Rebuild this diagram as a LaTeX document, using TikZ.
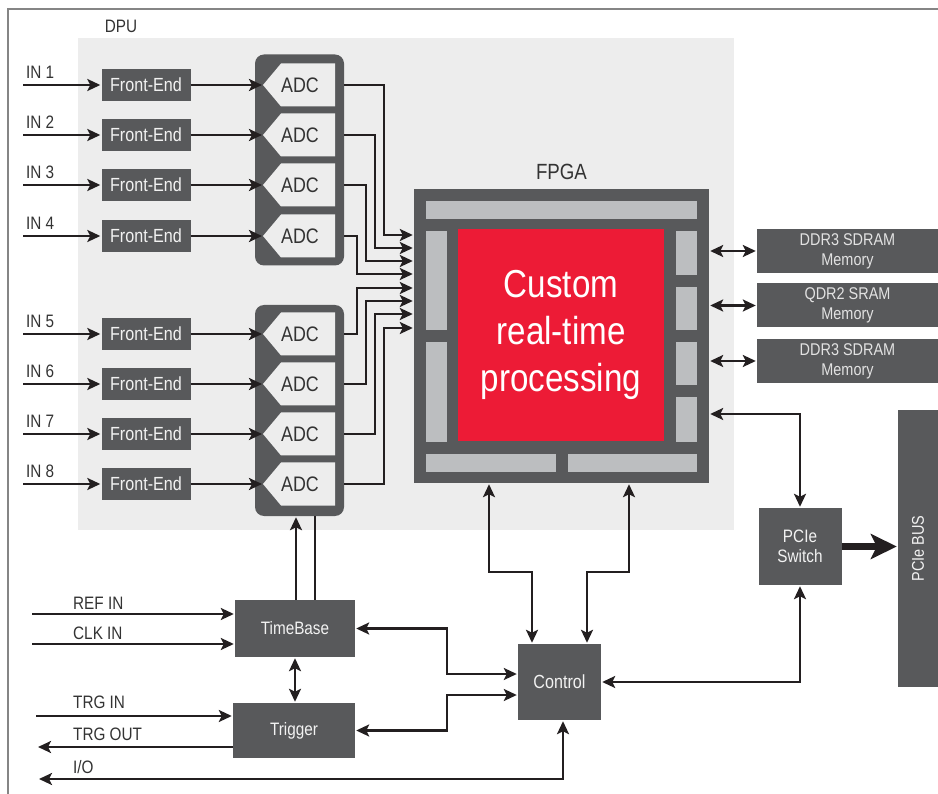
\documentclass[tikz,border=0pt]{standalone}
\usepackage{fontspec}
\setmainfont{Liberation Sans}[FakeStretch=0.85]
\usetikzlibrary{arrows.meta}
\definecolor{boxc}{HTML}{58595B}
\definecolor{barc}{HTML}{BCBEC0}
\definecolor{panelc}{HTML}{EDEDED}
\definecolor{redc}{HTML}{ED1B36}
\definecolor{inkc}{HTML}{231F20}
\definecolor{framec}{HTML}{858585}
\definecolor{labelc}{HTML}{333333}
\definecolor{boxtxtc}{HTML}{F2F2F2}
\definecolor{memtxtc}{HTML}{E2E2E2}

\tikzset{
  sig/.style={-{Stealth[length=13pt,width=12pt,inset=3pt]}, line width=2.5pt, draw=inkc, shorten >=1pt},
  dsig/.style={{Stealth[length=13pt,width=12pt,inset=3pt]}-{Stealth[length=13pt,width=12pt,inset=3pt]}, line width=2.5pt, draw=inkc, shorten >=1pt, shorten <=1pt},
  bigsig/.style={-{Stealth[length=26pt,width=25pt,inset=6pt]}, line width=7pt, draw=inkc, shorten >=1pt},
  lbl/.style={text=labelc, font=\fontsize{18}{20}\selectfont, inner sep=0pt},
  darkbox/.style={fill=boxc, text=boxtxtc, inner sep=0pt, font=\fontsize{19}{21}\selectfont},
  febox/.style={darkbox, minimum width=89pt, minimum height=32pt},
  adcgrp/.style={fill=boxc, rounded corners=9pt, minimum width=89pt, minimum height=211pt, inner sep=0pt},
  adctxt/.style={text=labelc, font=\fontsize{21}{23}\selectfont, inner sep=0pt},
  membox/.style={darkbox, text=memtxtc, minimum width=181pt, minimum height=44pt, align=center, font=\fontsize{17}{20}\selectfont},
  bar/.style={fill=barc}
}

\begin{document}
\begin{tikzpicture}[x=1pt, y=-1pt]
  \useasboundingbox (0,0) rectangle (938,794);
  \fill[panelc] (78,38) rectangle (734,530);
  \draw[framec, line width=2pt] (938,9) -- (8,9) -- (8,794);
  \node[lbl] (dpulbl) at (121,26) {DPU};

  \node[adcgrp] (adcA) at (299.5,160) {};
  \node[adcgrp] (adcB) at (299.5,410.5) {};

  \foreach \i/\y in {1/85,2/135,3/185,4/236,5/334,6/384,7/434,8/484} {
    \coordinate (in\i) at (23,\y);
    \node[lbl, anchor=base west] (inlbl\i) at (26,\y-6) {IN \i};
    \node[febox] (fe\i) at (146,\y) {Front-End};
    \fill[panelc] (263,\y) -- ++(18,-21.5) -- ++(54,0) -- ++(0,43) -- ++(-54,0) -- cycle;
    \coordinate (adcin\i) at (263,\y);
    \node[adctxt] (adc\i) at (300,\y) {ADC};
    \draw[sig] (in\i) -- (fe\i);
    \draw[sig] (fe\i) -- (adcin\i);
  }

  \node[fill=boxc, minimum width=295pt, minimum height=294pt, inner sep=0pt] (fpga) at (561.5,336) {};
  \node[lbl, font=\fontsize{22}{24}\selectfont] (fpgalbl) at (561.5,172) {FPGA};
  \fill[bar] (426,201) rectangle (697,219);
  \fill[bar] (426,231) rectangle (447,330);
  \fill[bar] (426,342) rectangle (447,442);
  \fill[bar] (676,231) rectangle (697,275);
  \fill[bar] (676,287) rectangle (697,330);
  \fill[bar] (676,342) rectangle (697,385);
  \fill[bar] (676,397) rectangle (697,442);
  \fill[bar] (426,454) rectangle (556,472);
  \fill[bar] (568,454) rectangle (697,472);
  \node[fill=redc, text=white, minimum width=206pt, minimum height=212pt, inner sep=0pt, align=center, font=\fontsize{39}{47}\selectfont] (core) at (561,335) {Custom\\real-time\\processing};

  \foreach \i/\g/\x/\t in {1/A/384/235,2/A/375/248,3/A/366/261,4/A/357/274,5/B/357/288,6/B/366/301,7/B/375/314,8/B/384/328}
    \draw[sig] (adc\i -| adc\g.east) -| (\x,\t) -- (fpga.west |- \x,\t);

  \foreach \i/\y/\t in {1/251/DDR3 SDRAM,2/305.5/QDR2 SRAM,3/361/DDR3 SDRAM} {
    \node[membox] (mem\i) at (847.5,\y) {\t\\Memory};
    \draw[dsig] (fpga.east |- mem\i) -- (mem\i);
  }

  \node[darkbox, minimum width=83pt, minimum height=77pt, align=center, font=\fontsize{18}{20}\selectfont] (pcisw) at (800,546.5) {PCIe\\Switch};
  \node[darkbox, minimum width=40pt, minimum height=277pt] (pcibus) at (918,548.5) {};
  \node[rotate=90, text=boxtxtc, inner sep=0pt, font=\fontsize{17}{19}\selectfont] (pcibuslbl) at (pcibus) {PCIe BUS};
  \draw[bigsig] (pcisw.east) -- (pcisw.east -| pcibus.west);

  \node[darkbox, minimum width=83pt, minimum height=76pt] (ctrl) at (559.5,682) {Control};
  \node[darkbox, minimum width=120pt, minimum height=57pt, font=\fontsize{18}{20}\selectfont] (tb) at (295,628.5) {TimeBase};
  \node[darkbox, minimum width=122pt, minimum height=55pt, font=\fontsize{18}{20}\selectfont] (trg) at (294,730.5) {Trigger};

  \draw[dsig] (fpga.east |- 0,414) -| (pcisw.north);
  \draw[dsig] (ctrl.east) -| (pcisw.south);
  \draw[dsig] (fpga.south -| 489,0) |- (532,572) -- (ctrl.north -| 532,0);
  \draw[dsig] (fpga.south -| 629,0) |- (587,572) -- (ctrl.north -| 587,0);
  \draw[dsig] (tb.east) -| (447,674) -- (ctrl.west |- 0,674);
  \draw[dsig] (trg.east) -| (447,695) -- (ctrl.west |- 0,695);
  \draw[dsig] (tb.south) -- (tb.south |- trg.north);
  \draw[sig] (tb.north -| 296,0) -- (adcB.south -| 296,0);
  \draw[line width=2.5pt, inkc] (tb.north -| 315,0) -- (adcB.south -| 315,0);

  \coordinate (refin) at (32,614);
  \coordinate (clkin) at (32,644);
  \coordinate (trgin) at (36,716);
  \coordinate (trgout) at (37,747);
  \coordinate (io) at (38,779);
  \node[lbl, anchor=base west] (reflbl) at (73,609) {REF IN};
  \node[lbl, anchor=base west] (clklbl) at (73,639) {CLK IN};
  \node[lbl, anchor=base west] (trginlbl) at (73,708) {TRG IN};
  \node[lbl, anchor=base west] (trgoutlbl) at (73,740) {TRG OUT};
  \node[lbl, anchor=base west] (iolbl) at (73,773) {I/O};
  \draw[sig] (refin) -- (refin -| tb.west);
  \draw[sig] (clkin) -- (clkin -| tb.west);
  \draw[sig] (trgin) -- (trgin -| trg.west);
  \draw[sig] (trgout -| trg.west) -- (trgout);
  \draw[dsig] (io) -| (ctrl.south -| 563,0);
\end{tikzpicture}
\end{document}
